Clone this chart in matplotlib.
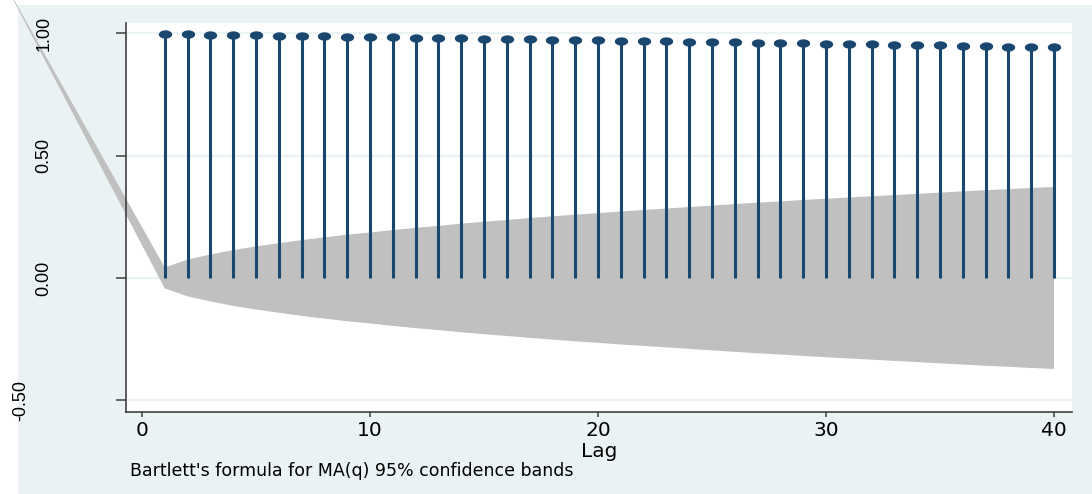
import numpy as np
import matplotlib
matplotlib.use("Agg")
import matplotlib.pyplot as plt
from matplotlib.path import Path
from matplotlib.patches import Rectangle, Polygon
import matplotlib.transforms as mtransforms
from matplotlib import font_manager

# ---------------- data ----------------
lags = list(range(1, 41))
acf = [0.998, 0.997, 0.995, 0.994, 0.993, 0.991, 0.990, 0.988, 0.987, 0.986,
       0.984, 0.983, 0.981, 0.980, 0.979, 0.977, 0.976, 0.974, 0.973, 0.972,
       0.970, 0.969, 0.967, 0.966, 0.965, 0.963, 0.962, 0.960, 0.959, 0.958,
       0.956, 0.955, 0.953, 0.952, 0.951, 0.949, 0.948, 0.946, 0.945, 0.944]
band = [0.043, 0.075, 0.096, 0.114, 0.129, 0.142, 0.155, 0.166, 0.177, 0.186,
        0.196, 0.205, 0.213, 0.222, 0.230, 0.237, 0.245, 0.252, 0.259, 0.265,
        0.272, 0.278, 0.284, 0.290, 0.296, 0.302, 0.308, 0.313, 0.319, 0.324,
        0.329, 0.334, 0.339, 0.344, 0.349, 0.354, 0.359, 0.363, 0.368, 0.372]
# stray vertex of the band polygon seen in the reference (off to the upper left)
band_stray_lag = -6.17
band_stray_value = 1.23

xticks = [0, 10, 20, 30, 40]
yticks = [-0.5, 0.0, 0.5, 1.0]
ytick_labels = ["-0.50", "0.00", "0.50", "1.00"]
xlabel = "Lag"
note = "Bartlett's formula for MA(q) 95% confidence bands"

# ---------------- style ----------------
W, H, DPI = 1092, 494, 100
BG = "#eaf2f3"
NAVY = "#1a476f"
GRAY = "#c0c0c0"
AX = "#404040"

names = {f.name for f in font_manager.fontManager.ttflist}
if "Liberation Sans Narrow" in names:
    yfont, ysize = "Liberation Sans Narrow", 15.5
else:
    yfont, ysize = "Liberation Sans", 13

fig = plt.figure(figsize=(W / DPI, H / DPI), dpi=DPI, facecolor="white")
fig.patches.append(Rectangle((18 / W, 0), 1 - 18 / W, (H - 5) / H,
                             transform=fig.transFigure, facecolor=BG,
                             edgecolor="none", zorder=-10))

left, right, top, bottom = 126, 1072, 23, 412
ax = fig.add_axes([left / W, 1 - bottom / H, (right - left) / W, (bottom - top) / H])
ax.set_facecolor("white")

# confidence band (with stray vertex)
upper = [(l, b) for l, b in zip(lags, band)]
lower = [(l, -b) for l, b in zip(lags, band)][::-1]
verts = upper + lower + [(band_stray_lag, band_stray_value)]
ax.add_patch(Polygon(verts, closed=True, facecolor=GRAY, edgecolor="none",
                     zorder=1, clip_on=False))

# stems
ax.vlines(lags, 0, acf, colors=NAVY, linewidth=2.2, zorder=3)
theta = np.linspace(0, 2 * np.pi, 64)
ell = Path(np.column_stack([1.6 * np.cos(theta), np.sin(theta)]), closed=True)
ax.plot(lags, acf, linestyle="none", marker=ell, markersize=9.6,
        color=NAVY, markeredgewidth=0, zorder=4)

ax.set_xlim(-0.70, 40.79)
ax.set_ylim(-0.548, 1.0425)

for y in yticks:
    ax.axhline(y, color=BG, linewidth=1.6, zorder=0.5)

ax.set_xticks(xticks)
ax.set_xticklabels([str(t) for t in xticks], family="DejaVu Sans", fontsize=14.5)
ax.set_yticks(yticks)
ax.set_yticklabels(ytick_labels, rotation=90, va="center",
                   family=[yfont, "DejaVu Sans"], fontsize=ysize)

for s in ["top", "right"]:
    ax.spines[s].set_visible(False)
for s in ["left", "bottom"]:
    ax.spines[s].set_color(AX)
    ax.spines[s].set_linewidth(1.2)

ax.tick_params(axis="y", direction="out", length=7, width=1.1, color=AX, pad=46,
               labelcolor="black")
ax.tick_params(axis="x", direction="out", length=3.8, width=1.1, color=AX, pad=3,
               labelcolor="black")

# quirk: the -0.50 label sits further left
lab = ax.yaxis.get_major_ticks()[0].label1
lab.set_transform(lab.get_transform() +
                  mtransforms.ScaledTranslation(-23 / DPI, 0, fig.dpi_scale_trans))

ax.set_xlabel(xlabel, family="DejaVu Sans", fontsize=14.5)
ax.xaxis.label.set_va("baseline")
ax.xaxis.set_label_coords(0.5, (bottom - 457) / (bottom - top))

fig.text(130 / W, 1 - 476 / H, note, family="DejaVu Sans", fontsize=12.5,
         va="baseline", ha="left")

fig.savefig("out.png", dpi=DPI, facecolor=fig.get_facecolor())
